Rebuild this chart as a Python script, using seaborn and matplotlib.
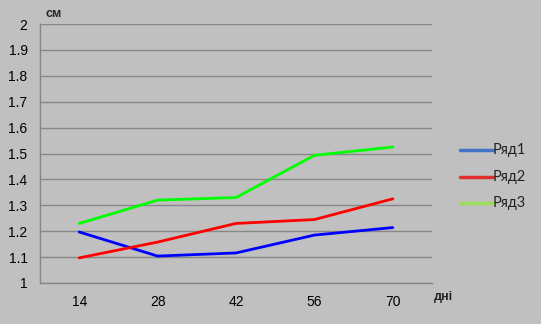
import matplotlib
matplotlib.use("Agg")
import matplotlib.pyplot as plt
import seaborn as sns
import pandas as pd
from matplotlib.ticker import FixedLocator, NullFormatter

days = ["14", "28", "42", "56", "70"]
row1 = [1.197, 1.104, 1.116, 1.185, 1.214]
row2 = [1.097, 1.158, 1.230, 1.245, 1.325]
row3 = [1.230, 1.320, 1.330, 1.493, 1.525]
series_names = ["Ряд1", "Ряд2", "Ряд3"]
colors = ["#0000ff", "#ff0000", "#00ff00"]
legend_colors = ["#4472c4", "#e03030", "#9bdd5a"]
yticks = [1, 1.1, 1.2, 1.3, 1.4, 1.5, 1.6, 1.7, 1.8, 1.9, 2]

rows = []
for name, vals in zip(series_names, [row1, row2, row3]):
    for d, v in zip(days, vals):
        rows.append({"day": d, "value": v, "series": name})
df = pd.DataFrame(rows)

sns.set_theme(style="white")
plt.rcParams["font.family"] = ["Liberation Sans", "DejaVu Sans"]

bg = "#c0c0c0"
fig = plt.figure(figsize=(5.41, 3.24), dpi=100, facecolor=bg)
ax = fig.add_axes([40 / 541, 1 - 283 / 324, (432 - 40) / 541, (283 - 24) / 324])
ax.set_facecolor(bg)

sns.lineplot(data=df, x="day", y="value", hue="series", palette=colors,
             linewidth=2, ax=ax, legend=False, sort=False)

ax.set_xlim(-0.5, 4.5)
ax.set_ylim(1, 2)
ax.set_yticks(yticks)
ax.set_yticklabels([f"{t:g}" for t in yticks])
ax.yaxis.grid(True, color="#878787", linewidth=1)
ax.set_axisbelow(True)
ax.set_xlabel("")
ax.set_ylabel("")
for s in ["top", "right"]:
    ax.spines[s].set_visible(False)
for s in ["left", "bottom"]:
    ax.spines[s].set_color("#878787")
    ax.spines[s].set_linewidth(1)

ax.tick_params(axis="x", which="major", length=0, pad=9, labelsize=10, colors="black")
ax.xaxis.set_minor_locator(FixedLocator([0.5, 1.5, 2.5, 3.5, 4.5]))
ax.xaxis.set_minor_formatter(NullFormatter())
ax.tick_params(axis="x", which="minor", length=5, color="#878787", direction="out")
ax.tick_params(axis="y", length=5, color="#878787", direction="out", labelsize=10, pad=4)
for lbl in ax.get_xticklabels() + ax.get_yticklabels():
    lbl.set_color("black")

fig.text(46 / 541, 1 - 14 / 324, "см", fontsize=9, fontweight="bold", va="center", ha="left")
fig.text(434 / 541, 1 - 297 / 324, "дні", fontsize=9, fontweight="bold", va="center", ha="left")

# legend
for i, (name, c) in enumerate(zip(series_names, legend_colors)):
    y = 1 - (150 + 26.5 * i) / 324
    fig.add_artist(plt.Line2D([460 / 541, 493 / 541], [y, y], color=c, linewidth=2.5,
                              transform=fig.transFigure))
    fig.text(493 / 541, y, name, fontsize=10.5, va="center", ha="left",
             family=["Lato", "DejaVu Sans"], color="#222222")

fig.savefig("out.png", dpi=100, facecolor=bg)
